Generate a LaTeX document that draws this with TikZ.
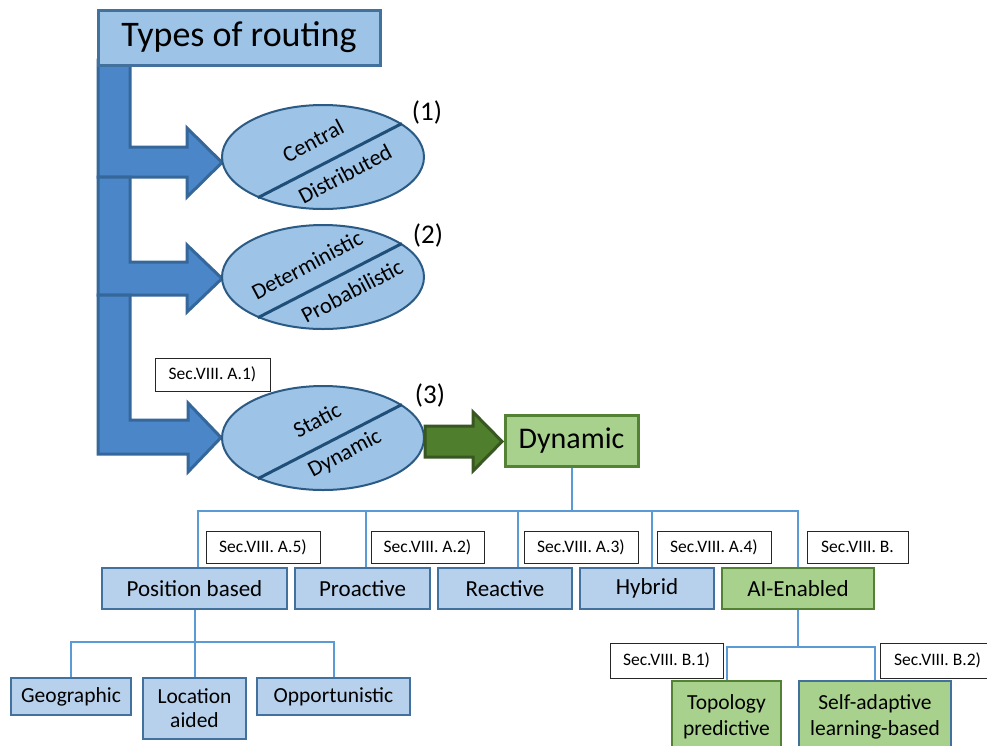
\documentclass[tikz,border=0pt]{standalone}
\usepackage{fontspec}
\setmainfont{Carlito}
\usetikzlibrary{shapes.geometric,calc}
\definecolor{titleblue}{HTML}{9DC3E6}
\definecolor{ellfill}{HTML}{9DC3E6}
\definecolor{boxblue}{HTML}{B7D1EC}
\definecolor{boxborder}{HTML}{41719C}
\definecolor{arrowblue}{HTML}{4A86C8}
\definecolor{arrowborder}{HTML}{35679A}
\definecolor{darkline}{HTML}{1F4E79}
\definecolor{ellborder}{HTML}{2B5A85}
\definecolor{greenfill}{HTML}{A9D18E}
\definecolor{greenborder}{HTML}{548235}
\definecolor{greenarrow}{HTML}{4F7F2C}
\definecolor{greenarrowborder}{HTML}{385723}
\definecolor{treeblue}{HTML}{5B9BD5}
\begin{document}
\begin{tikzpicture}[x=1pt,y=-1pt,
  bentarrow/.style={fill=arrowblue,draw=arrowborder,line width=3pt,line join=miter},
  greenbig/.style={fill=greenarrow,draw=greenarrowborder,line width=3pt,line join=miter},
  titlebox/.style={rectangle,fill=titleblue,draw=boxborder,line width=3pt,inner sep=0pt,
    font=\fontsize{36}{40}\selectfont},
  ell/.style={ellipse,fill=ellfill,draw=ellborder,line width=2pt,inner sep=0pt,
    minimum width=202pt,minimum height=104pt},
  divider/.style={draw=darkline,line width=3pt},
  elltext/.style={inner sep=0pt,font=\fontsize{22.5}{24}\selectfont},
  numtext/.style={inner sep=0pt,font=\fontsize{27}{30}\selectfont},
  secbox/.style={rectangle,fill=white,draw=black!85,line width=1pt,inner sep=0pt,
    minimum height=32pt,font=\fontsize{17.5}{19}\selectfont},
  bluebox/.style={rectangle,fill=boxblue,draw=boxborder,line width=2.5pt,inner sep=0pt,
    align=center,font=\fontsize{23}{26}\selectfont},
  greenbox/.style={rectangle,fill=greenfill,draw=greenborder,line width=2.5pt,inner sep=0pt,
    align=center,font=\fontsize{23}{26}\selectfont},
  tree/.style={draw=treeblue,line width=2pt}
]
\clip (0,0) rectangle (987,745);
\fill[white] (0,0) rectangle (987,745);

% bent arrows
\draw[bentarrow] (98,60) -- (130,60) -- (130,147) -- (187,147) -- (187,128) -- (222,162.5)
  -- (187,197) -- (187,177) -- (98,177) -- cycle;
\draw[bentarrow] (98,177) -- (130,177) -- (130,262) -- (187,262) -- (187,245) -- (222,278.5)
  -- (187,312) -- (187,295) -- (98,295) -- cycle;
\draw[bentarrow] (98,295) -- (130,295) -- (130,420) -- (188,420) -- (188,403) -- (221,437.5)
  -- (188,472) -- (188,454) -- (98,454) -- cycle;

% title
\node[titlebox,minimum width=282pt,minimum height=55pt] (title) at (239,37.5) {Types of routing};

% ellipses
\node[ell] (e1) at (323,157) {};
\node[ell] (e2) at (323,277) {};
\node[ell] (e3) at (323,438) {};
\draw[divider] (e1.212) -- (e1.23);
\draw[divider] (e2.212) -- (e2.23);
\draw[divider] (e3.212) -- (e3.23);
\node[elltext,rotate=28] (t1a) at ($(e1)+(-10,-16)$) {Central};
\node[elltext,rotate=28] (t1b) at ($(e1)+(22,17)$) {Distributed};
\node[elltext,rotate=28] (t2a) at ($(e2)+(-16,-12)$) {Deterministic};
\node[elltext,rotate=28] (t2b) at ($(e2)+(29,14)$) {Probabilistic};
\node[elltext,rotate=28] (t3a) at ($(e3)+(-6,-18)$) {Static};
\node[elltext,rotate=28] (t3b) at ($(e3)+(22,16)$) {Dynamic};
\node[numtext] (n1) at (427,112) {(1)};
\node[numtext] (n2) at (428,235) {(2)};
\node[numtext] (n3) at (430,395) {(3)};

\node[secbox,minimum width=115pt,minimum height=33pt] (sa1) at (212.5,374.5) {Sec.VIII. A.1)};

% green arrow and Dynamic box
\draw[greenbig] (425,426) -- (473,426) -- (473,412) -- (502,441.5) -- (473,471) -- (473,457)
  -- (425,457) -- cycle;
\node[greenbox,line width=3pt,minimum width=133pt,minimum height=51pt,
  font=\fontsize{30}{34}\selectfont] (dyn) at (571.5,440.5) {Dynamic};

% level 2
\node[bluebox,minimum width=185pt,minimum height=41pt] (pb) at (194.5,588.5) {Position based};
\node[bluebox,minimum width=135pt,minimum height=41pt] (pro) at (362.5,588.5) {Proactive};
\node[bluebox,minimum width=134pt,minimum height=41pt] (rea) at (505,588.5) {Reactive};
\node[bluebox,minimum width=134pt,minimum height=41pt] (hyb) at (647,588.5) {Hybrid};
\node[greenbox,minimum width=152pt,minimum height=41pt] (ai) at (798,588.5) {AI-Enabled};

\node[secbox,minimum width=114pt] (sa5) at (263,547) {Sec.VIII. A.5)};
\node[secbox,minimum width=113pt] (sa2) at (427.5,547) {Sec.VIII. A.2)};
\node[secbox,minimum width=114pt] (sa3) at (581,547) {Sec.VIII. A.3)};
\node[secbox,minimum width=114pt] (sa4) at (714,547) {Sec.VIII. A.4)};
\node[secbox,minimum width=101pt] (sb) at (857.5,547) {Sec.VIII. B.};

% level 3
\node[bluebox,minimum width=120pt,minimum height=37pt,font=\fontsize{21.5}{24}\selectfont] (geo) at (71,696.5) {Geographic};
\node[bluebox,minimum width=103pt,minimum height=61pt,font=\fontsize{21.5}{24}\selectfont] (loc) at (194.5,708.5) {Location\\aided};
\node[bluebox,minimum width=153pt,minimum height=37pt,font=\fontsize{21.5}{24}\selectfont] (opp) at (333.5,696.5) {Opportunistic};
\node[greenbox,minimum width=109pt,minimum height=71pt,font=\fontsize{21.5}{26}\selectfont] (topo) at (726.5,716.5) {Topology\\predictive};
\node[greenbox,draw=boxborder,minimum width=152pt,minimum height=71pt,font=\fontsize{21.5}{26}\selectfont] (self) at (875,716.5) {Self-adaptive\\learning-based};
\node[secbox,minimum width=113pt,minimum height=35pt] (sb1) at (666.5,660.5) {Sec.VIII. B.1)};
\node[secbox,minimum width=115pt,minimum height=35pt] (sb2) at (937.5,660.5) {Sec.VIII. B.2)};

% tree connectors
\coordinate (bus) at (571.5,511);
\coordinate (dpb) at ([xshift=3.5pt]pb.north);
\coordinate (dpro) at ([xshift=3.5pt]pro.north);
\coordinate (drea) at ([xshift=13pt]rea.north);
\coordinate (dhyb) at ([xshift=5pt]hyb.north);
\draw[tree] (dyn.south) -- (bus);
\draw[tree] (dpb) |- (ai.north |- bus) -- (ai.north);
\draw[tree] (dpro) -- (dpro |- bus);
\draw[tree] (drea) -- (drea |- bus);
\draw[tree] (dhyb) -- (dhyb |- bus);

\coordinate (bus2) at (194.5,642);
\draw[tree] (pb.south) -- (loc.north);
\draw[tree] (geo.north) |- (bus2) -| (opp.north);

\coordinate (bus3) at (798,647);
\draw[tree] (ai.south) -- (bus3);
\draw[tree] (topo.north) |- (bus3) -| (self.north);
\end{tikzpicture}
\end{document}
